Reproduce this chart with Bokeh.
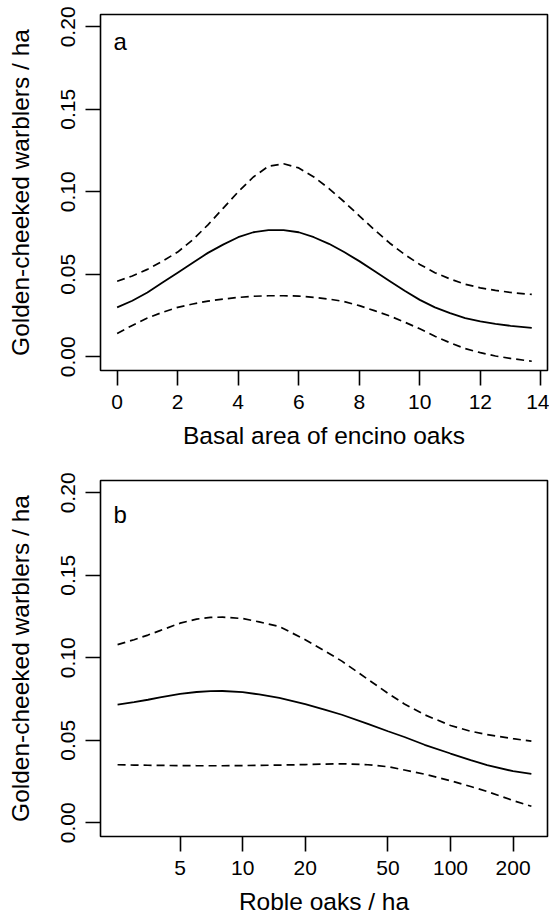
import math
from bokeh.plotting import figure
from bokeh.layouts import column
from bokeh.models import Range1d, FixedTicker, PrintfTickFormatter, Label
from bokeh.embed import file_html
from bokeh.resources import INLINE

# ---------------- data ----------------
# Panel a: basal area of encino oaks
encino_x = [0, 0.5, 1, 1.5, 2, 2.5, 3, 3.5, 4, 4.5, 5, 5.5, 6, 6.5, 7, 7.5,
            8, 8.5, 9, 9.5, 10, 10.5, 11, 11.5, 12, 12.5, 13, 13.7]
encino_fit = [0.030, 0.034, 0.039, 0.045, 0.051, 0.057, 0.063, 0.068, 0.0725,
              0.0755, 0.0768, 0.0768, 0.0755, 0.0725, 0.0685, 0.0635, 0.058,
              0.052, 0.046, 0.040, 0.0345, 0.030, 0.0265, 0.0235, 0.0215,
              0.020, 0.0188, 0.0175]
encino_upper = [0.0458, 0.049, 0.053, 0.058, 0.0635, 0.071, 0.080, 0.090,
                0.100, 0.109, 0.1155, 0.117, 0.1145, 0.109, 0.102, 0.094,
                0.0855, 0.077, 0.069, 0.062, 0.056, 0.051, 0.0472, 0.044,
                0.0418, 0.0403, 0.039, 0.0378]
encino_lower = [0.0142, 0.019, 0.0235, 0.027, 0.030, 0.032, 0.0338, 0.035,
                0.036, 0.0367, 0.037, 0.037, 0.0368, 0.036, 0.035, 0.0335,
                0.031, 0.028, 0.0248, 0.021, 0.017, 0.0125, 0.0085, 0.005,
                0.0025, 0.0005, -0.001, -0.0027]

# Panel b: roble oaks per ha (log axis)
roble_x = [2.5, 3, 3.5, 4, 5, 6, 7, 8, 10, 12, 15, 20, 25, 30, 40, 50, 60, 75,
           100, 125, 150, 200, 245]
roble_fit = [0.0716, 0.0732, 0.0746, 0.0760, 0.0782, 0.0793, 0.0798, 0.0799,
             0.0792, 0.0778, 0.0757, 0.0720, 0.0685, 0.0655, 0.0600, 0.0555,
             0.0520, 0.0473, 0.0420, 0.0380, 0.0350, 0.0313, 0.0297]
roble_upper = [0.108, 0.111, 0.1138, 0.1165, 0.121, 0.1235, 0.1245, 0.1247,
               0.1238, 0.1218, 0.119, 0.111, 0.104, 0.098, 0.087, 0.0785,
               0.072, 0.0655, 0.059, 0.0555, 0.0535, 0.051, 0.0495]
roble_lower = [0.0352, 0.0350, 0.0349, 0.0348, 0.0347, 0.0346, 0.0346,
               0.0346, 0.0347, 0.0348, 0.035, 0.0353, 0.0356, 0.0358, 0.0352,
               0.0340, 0.032, 0.0295, 0.0255, 0.022, 0.019, 0.0135, 0.0100]

y_ticks = [0.00, 0.05, 0.10, 0.15, 0.20]
encino_ticks = [0, 2, 4, 6, 8, 10, 12, 14]
roble_ticks = [5, 10, 20, 50, 100, 200]

y_title = "Golden-cheeked warblers / ha"
encino_title = "Basal area of encino oaks"
roble_title = "Roble oaks / ha"

FONT = "Liberation Sans"


def style(p, xticks, xfmt):
    p.outline_line_color = "black"
    p.outline_line_width = 1.6
    p.xgrid.visible = False
    p.ygrid.visible = False
    p.background_fill_color = "white"
    p.border_fill_color = "white"
    p.xaxis.ticker = FixedTicker(ticks=xticks)
    p.xaxis.formatter = PrintfTickFormatter(format=xfmt)
    p.yaxis.ticker = FixedTicker(ticks=y_ticks)
    p.yaxis.formatter = PrintfTickFormatter(format="%.2f")
    p.yaxis.major_label_orientation = "parallel"
    for ax in (p.xaxis[0], p.yaxis[0]):
        ax.axis_line_color = None
        ax.major_tick_in = 0
        ax.major_tick_out = 15
        ax.major_tick_line_color = "black"
        ax.major_tick_line_width = 1.6
        ax.minor_tick_line_color = None
        ax.major_label_text_font = FONT
        ax.major_label_text_font_size = "21px"
        ax.major_label_text_color = "black"
        ax.axis_label_text_font = FONT
        ax.axis_label_text_font_size = "24.5px"
        ax.axis_label_text_font_style = "normal"
        ax.axis_label_text_color = "black"
    p.xaxis.major_label_standoff = 9
    p.xaxis.axis_label_standoff = 10
    p.yaxis.major_label_standoff = 10
    p.yaxis.axis_label_standoff = 25


def curves(p, x, fit, up, lo):
    p.line(x, fit, line_color="black", line_width=1.8)
    p.line(x, up, line_color="black", line_width=1.7, line_dash="8 5")
    p.line(x, lo, line_color="black", line_width=1.7, line_dash="8 5")


Y_RANGE = (-0.0083, 0.2075)

pa = figure(width=549, height=467, output_backend="svg", toolbar_location=None,
            x_range=Range1d(-0.55, 14.22), y_range=Range1d(*Y_RANGE),
            min_border_left=100, min_border_right=2, min_border_top=14,
            min_border_bottom=97, x_axis_label=encino_title,
            y_axis_label=y_title)
style(pa, encino_ticks, "%d")
curves(pa, encino_x, encino_fit, encino_upper, encino_lower)
pa.add_layout(Label(x=13, y=0.191, x_units="screen", y_units="data", text="a",
                    text_font=FONT, text_font_size="24px",
                    text_baseline="alphabetic", text_align="left",
                    text_color="black"))

pb = figure(width=549, height=456, output_backend="svg", toolbar_location=None,
            x_axis_type="log", x_range=Range1d(2.069, 292.9),
            y_range=Range1d(*Y_RANGE),
            min_border_left=100, min_border_right=2, min_border_top=13,
            min_border_bottom=87, x_axis_label=roble_title,
            y_axis_label=y_title)
style(pb, roble_ticks, "%d")
curves(pb, roble_x, roble_fit, roble_upper, roble_lower)
pb.add_layout(Label(x=13, y=0.187, x_units="screen", y_units="data", text="b",
                    text_font=FONT, text_font_size="24px",
                    text_baseline="alphabetic", text_align="left",
                    text_color="black"))

layout = column(pa, pb, spacing=0)
open("out.html", "w").write(file_html(layout, INLINE))
